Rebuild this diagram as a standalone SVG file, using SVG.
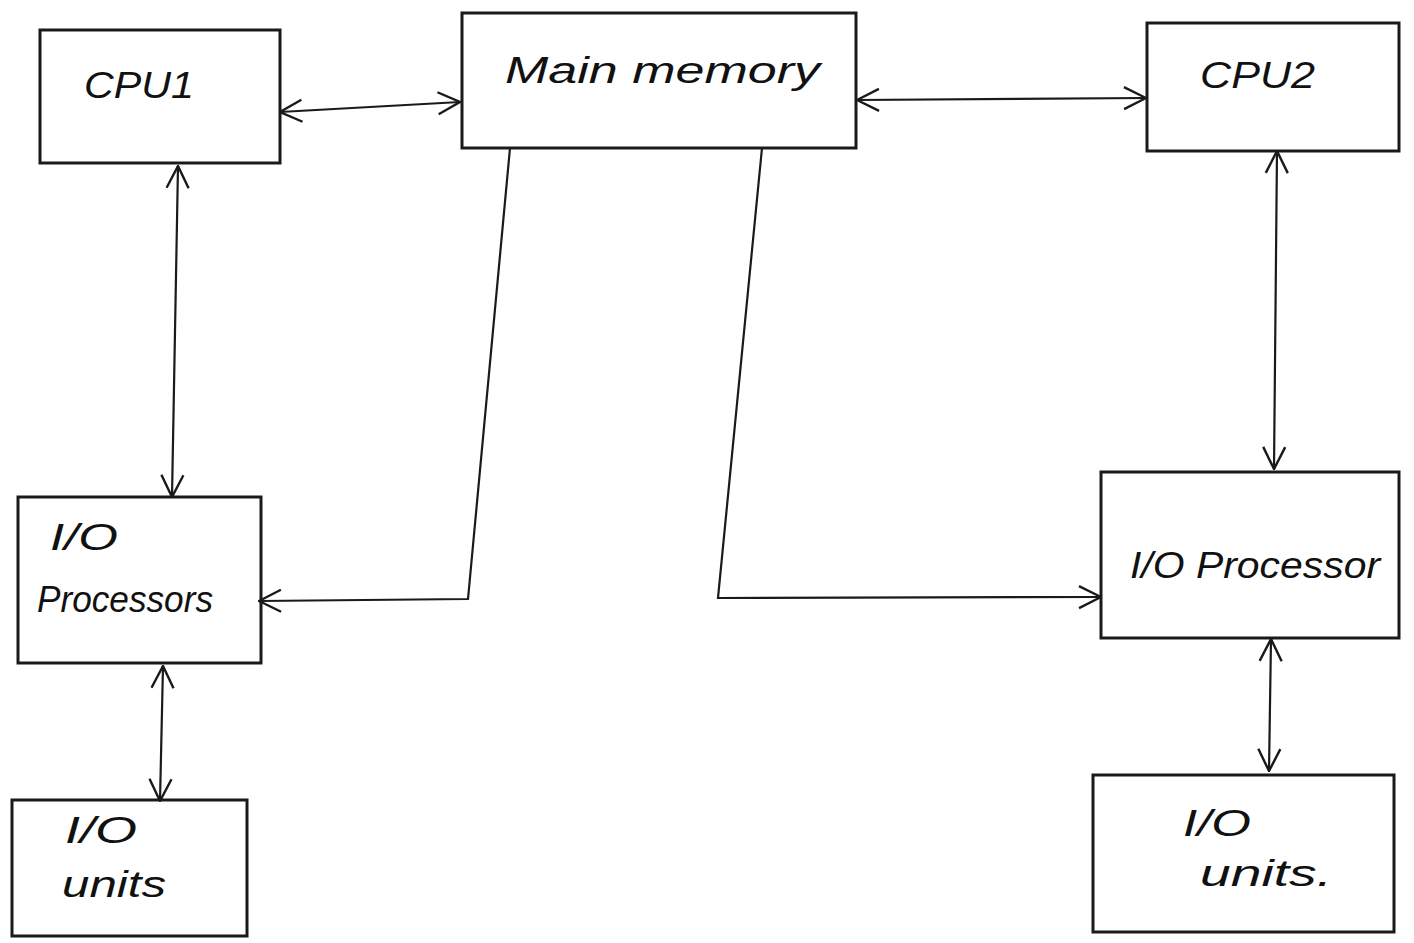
<svg xmlns="http://www.w3.org/2000/svg" width="1414" height="943" viewBox="0 0 1414 943">
<style>
.box{fill:none;stroke:#1a1a1a;stroke-width:3}
.ln{fill:none;stroke:#1a1a1a;stroke-width:2.2}
.bi{marker-start:url(#ah);marker-end:url(#ah)}
.one{marker-end:url(#ah)}
text{font-family:"Liberation Sans","DejaVu Sans",sans-serif;font-style:italic;font-size:36px;fill:#111}
</style>
<defs>
<marker id="ah" viewBox="0 0 26 26" refX="25" refY="13" markerWidth="26" markerHeight="26" markerUnits="userSpaceOnUse" orient="auto-start-reverse">
<path d="M3,2 L25,13 L3,24" fill="none" stroke="#1a1a1a" stroke-width="2.4"/>
</marker>
</defs>
<rect width="1414" height="943" fill="#ffffff"/>
<g id="connectors">
<line class="ln bi" x1="280" y1="112" x2="460" y2="102"/>
<line class="ln bi" x1="857" y1="100" x2="1146" y2="98"/>
<line class="ln bi" x1="178" y1="166" x2="172" y2="497"/>
<line class="ln bi" x1="1277" y1="151" x2="1274" y2="469"/>
<line class="ln bi" x1="163" y1="666" x2="160" y2="801"/>
<line class="ln bi" x1="1271" y1="639" x2="1269" y2="771"/>
<polyline class="ln one" points="510,148 468,599 259,601"/>
<polyline class="ln one" points="762,148 718,598 1101,597"/>
</g>
<g id="cpu1">
<rect class="box" x="40" y="30" width="240" height="133"/>
<text x="84" y="98" textLength="110" lengthAdjust="spacingAndGlyphs">CPU1</text>
</g>
<g id="main-memory">
<rect class="box" x="462" y="13" width="394" height="135"/>
<text x="505" y="83" textLength="315" lengthAdjust="spacingAndGlyphs">Main memory</text>
</g>
<g id="cpu2">
<rect class="box" x="1147" y="23" width="252" height="128"/>
<text x="1200" y="88" textLength="115" lengthAdjust="spacingAndGlyphs">CPU2</text>
</g>
<g id="io-processors">
<rect class="box" x="18" y="497" width="243" height="166"/>
<text x="50" y="550" textLength="68" lengthAdjust="spacingAndGlyphs">I/O</text>
<text x="37" y="612" textLength="176" lengthAdjust="spacingAndGlyphs">Processors</text>
</g>
<g id="io-processor">
<rect class="box" x="1101" y="472" width="298" height="166"/>
<text x="1130" y="578" textLength="250" lengthAdjust="spacingAndGlyphs">I/O Processor</text>
</g>
<g id="io-units-left">
<rect class="box" x="12" y="800" width="235" height="136"/>
<text x="65" y="843" textLength="72" lengthAdjust="spacingAndGlyphs">I/O</text>
<text x="62" y="897" textLength="104" lengthAdjust="spacingAndGlyphs">units</text>
</g>
<g id="io-units-right">
<rect class="box" x="1093" y="775" width="301" height="157"/>
<text x="1183" y="836" textLength="68" lengthAdjust="spacingAndGlyphs">I/O</text>
<text x="1200" y="886" textLength="132" lengthAdjust="spacingAndGlyphs">units.</text>
</g>
</svg>
